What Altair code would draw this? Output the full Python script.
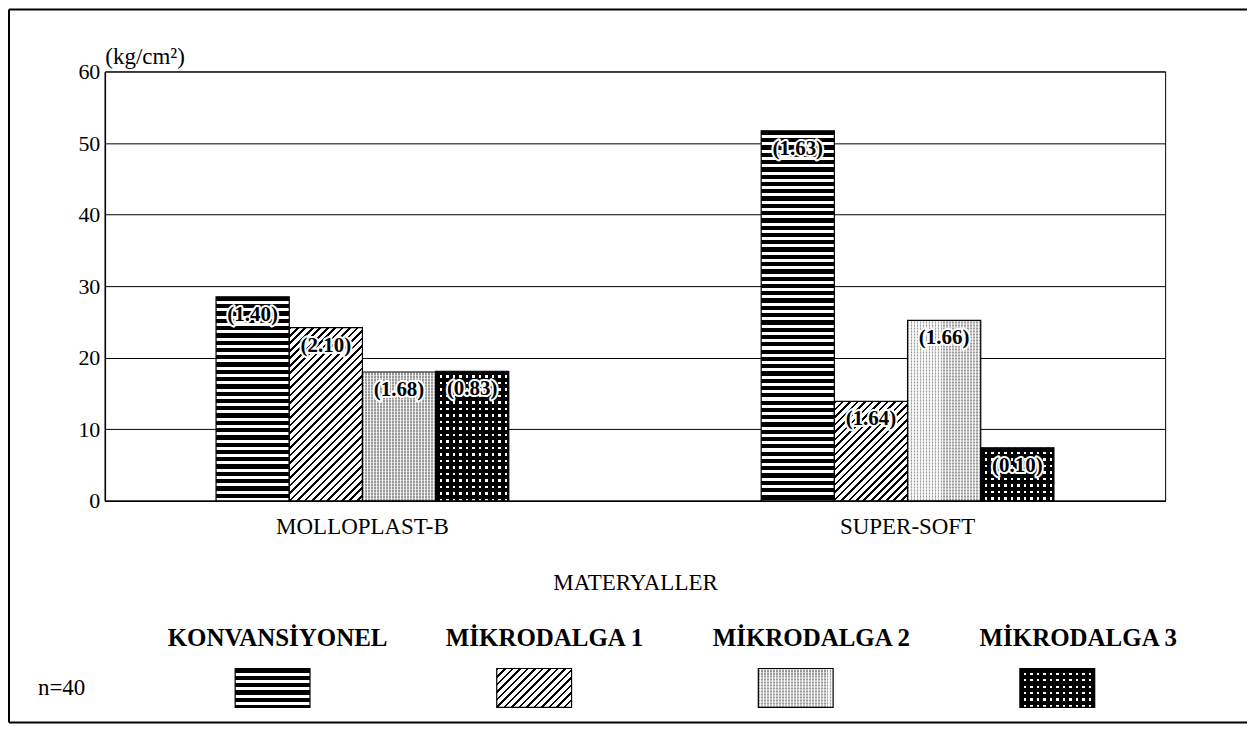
import altair as alt

# ---------------- data ----------------
materials = ["MOLLOPLAST-B", "SUPER-SOFT"]
series = ["KONVANSİYONEL", "MİKRODALGA 1", "MİKRODALGA 2", "MİKRODALGA 3"]
molloplast_values = [28.5, 24.2, 18.0, 18.1]
supersoft_values = [51.7, 13.9, 25.2, 7.4]
molloplast_labels = ["(1.40)", "(2.10)", "(1.68)", "(0.83)"]
supersoft_labels = ["(1.63)", "(1.64)", "(1.66)", "(0.10)"]
y_ticks = [0, 10, 20, 30, 40, 50, 60]
y_title = "(kg/cm²)"
x_title = "MATERYALLER"
note_text = "n=40"

# ---------------- layout / style ----------------
FONT = "Liberation Serif"
W, H = 1062, 430
Y_MAX = 60
P_IN, P_OUT = 0.463, 0.204
STEP = W / (len(materials) - P_IN + 2 * P_OUT)
BAR_W = STEP * (1 - P_IN) / len(series)
SW_W, SW_H = 75, 39
TRANSPARENT = "rgba(0,0,0,0)"


def _stops(length, pitch, dark_frac, dark, light):
    n = max(length / pitch, 1.0)
    stops = []
    i = 0
    while i / n < 1:
        a = i / n
        b = min((i + dark_frac) / n, 1.0)
        c = min((i + 1) / n, 1.0)
        stops.append({"offset": round(a, 5), "color": dark})
        stops.append({"offset": round(b, 5), "color": dark})
        if b < 1:
            stops.append({"offset": round(b, 5), "color": light})
            stops.append({"offset": round(c, 5), "color": light})
        i += 1
    return stops


def h_stripes(h, pitch, frac, dark, light):
    return {"gradient": "linear", "x1": 0, "y1": 0, "x2": 0, "y2": 1,
            "stops": _stops(h, pitch, frac, dark, light)}


def v_stripes(w, pitch, frac, dark, light):
    return {"gradient": "linear", "x1": 0, "y1": 0, "x2": 1, "y2": 0,
            "stops": _stops(w, pitch, frac, dark, light)}


def diag_stripes(w, h, pitch, frac, dark, light):
    a = (w + h) / (w * w + h * h)
    return {"gradient": "linear", "x1": 0, "y1": 0,
            "x2": round(a * w, 6), "y2": round(a * h, 6),
            "stops": _stops(w + h, pitch, frac, dark, light)}


def pattern(idx, w, h):
    if idx == 0:
        return h_stripes(h, 7.3, 0.58, "black", "white"), "none"
    if idx == 1:
        return diag_stripes(w, h, 7.5, 0.36, "black", "white"), "none"
    if idx == 2:
        return (v_stripes(w, 3.0, 0.45, "#9a9a9a", "#f2f2f2"),
                h_stripes(h, 3.0, 0.5, "rgba(255,255,255,0.45)", TRANSPARENT))
    return (v_stripes(w, 6.5, 0.62, "black", "white"),
            h_stripes(h, 6.5, 0.62, "black", TRANSPARENT))


bar_rows = []
for m, vals, labs in zip(materials, [molloplast_values, supersoft_values],
                         [molloplast_labels, supersoft_labels]):
    for i, (s, v, lab) in enumerate(zip(series, vals, labs)):
        g1, g2 = pattern(i, BAR_W, v / Y_MAX * H)
        bar_rows.append({"material": m, "series": s, "value": v,
                         "label": lab, "g1": g1, "g2": g2})

legend_rows = []
for i, s in enumerate(series):
    g1, g2 = pattern(i, SW_W, SW_H)
    legend_rows.append({"series": s, "g1": g1, "g2": g2})

bar_data = alt.Data(values=bar_rows)
legend_data = alt.Data(values=legend_rows)

# ---------------- encodings ----------------
x_scale = alt.Scale(type="band", domain=materials, paddingInner=P_IN, paddingOuter=P_OUT)
x_axis = alt.Axis(title=x_title, labelAngle=0, ticks=False, domain=True,
                  domainColor="black", domainWidth=1.5, labelFontSize=23,
                  labelColor="black", labelPadding=15, labelFont=FONT,
                  titleFontSize=23, titleFontWeight="normal", titleColor="black",
                  titleFont=FONT, titlePadding=33)
x_with_axis = alt.X("material:N", sort=materials, scale=x_scale, axis=x_axis)
x_no_axis = alt.X("material:N", sort=materials, scale=x_scale, axis=None)
xo = alt.XOffset("series:N", sort=series,
                 scale=alt.Scale(type="band", domain=series, paddingInner=0, paddingOuter=0))

y_axis = alt.Axis(values=y_ticks, grid=True, gridColor="black", gridWidth=1,
                  gridOpacity=1, domain=True, domainColor="black", domainWidth=1.5,
                  ticks=False, labelFontSize=22, labelColor="black", labelPadding=5,
                  labelFont=FONT, title=y_title, titleAngle=0, titleAlign="left",
                  titleBaseline="bottom", titleX=0, titleY=-3, titleFontSize=23,
                  titleFontWeight="normal", titleColor="black", titleFont=FONT)
y_enc = alt.Y("value:Q", stack=None,
              scale=alt.Scale(domain=[0, Y_MAX], nice=False, zero=True), axis=y_axis)

bars_base = alt.Chart(bar_data).mark_bar(strokeWidth=0).encode(
    x=x_with_axis, xOffset=xo, y=y_enc,
    fill=alt.Fill("g1:N", scale=None, legend=None))
bars_top = alt.Chart(bar_data).mark_bar(stroke="black", strokeWidth=1.2).encode(
    x=x_no_axis, xOffset=xo, y=y_enc,
    fill=alt.Fill("g2:N", scale=None, legend=None))

halo = alt.Chart(bar_data).mark_text(
    font=FONT, fontSize=21, fontWeight="bold", dy=18, baseline="middle",
    fill="white", stroke="white", strokeWidth=4, strokeJoin="round").encode(
    x=x_no_axis, xOffset=xo, y=y_enc, text="label:N")
labels = alt.Chart(bar_data).mark_text(
    font=FONT, fontSize=21, fontWeight="bold", dy=18, baseline="middle",
    fill="black").encode(x=x_no_axis, xOffset=xo, y=y_enc, text="label:N")

# ---------------- custom legend ----------------
sw_x = alt.X("series:N", sort=series, axis=None,
             scale=alt.Scale(domain=series, range=[37, 1085],
                             paddingInner=0.714, paddingOuter=0.357))
hdr_x = alt.X("series:N", sort=series, axis=None,
              scale=alt.Scale(domain=series, type="point", range=[173, 975], padding=0))

headers = alt.Chart(legend_data).mark_text(
    font=FONT, fontSize=25, fontWeight="bold", baseline="middle", fill="black").encode(
    x=hdr_x, y=alt.value(567), text="series:N")
sw_base = alt.Chart(legend_data).mark_rect(strokeWidth=0).encode(
    x=sw_x, y=alt.value(598), y2=alt.value(637),
    fill=alt.Fill("g1:N", scale=None, legend=None))
sw_top = alt.Chart(legend_data).mark_rect(stroke="black", strokeWidth=1.2).encode(
    x=sw_x, y=alt.value(598), y2=alt.value(637),
    fill=alt.Fill("g2:N", scale=None, legend=None))

note = alt.Chart(alt.Data(values=[{"note": note_text}])).mark_text(
    font=FONT, fontSize=23, align="left", baseline="middle", fill="black").encode(
    x=alt.value(-67), y=alt.value(618), text="note:N")

# ---------------- outer frame ----------------
one = alt.Data(values=[{"k": 1}])
frame_left = alt.Chart(one).mark_rule(color="black", strokeWidth=2).encode(
    x=alt.value(-96), y=alt.value(-62), y2=alt.value(652))
frame_top = alt.Chart(one).mark_rule(color="black", strokeWidth=2).encode(
    x=alt.value(-96), x2=alt.value(1144), y=alt.value(-62))
frame_bottom = alt.Chart(one).mark_rule(color="black", strokeWidth=2).encode(
    x=alt.value(-96), x2=alt.value(1144), y=alt.value(652))

chart = alt.layer(
    bars_base, bars_top, halo, labels,
    headers, sw_base, sw_top, note,
    frame_left, frame_top, frame_bottom,
).resolve_scale(
    x="independent", xOffset="independent"
).properties(
    width=W, height=H, padding=0, background="white"
).configure(
    font=FONT
).configure_view(
    stroke="black", strokeWidth=1
)

chart.save("out.html", embed_options={"renderer": "svg", "actions": False})
